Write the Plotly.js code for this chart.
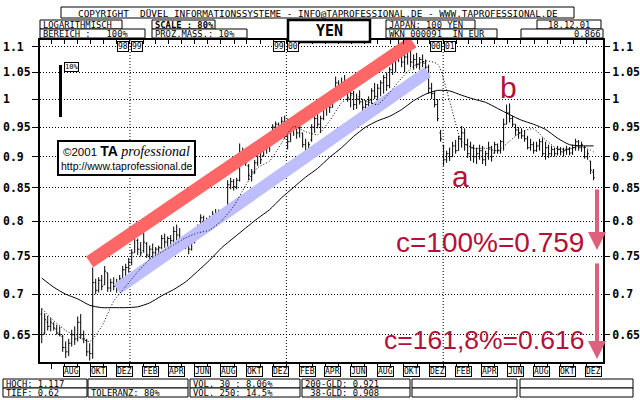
<!DOCTYPE html>
<html><head><meta charset="utf-8">
<script src="https://cdn.plot.ly/plotly-3.0.1.min.js"></script>
<style>html,body{margin:0;padding:0;background:#fff;}#chart{width:640px;height:400px;}</style>
</head><body><div id="chart"></div>
<script>
// ---------- DATA ----------
const firstWeek = '1998-06-09';
const weekOpen = [.675,.652,.665,.660,.663,.657,.652,.648,.635,.630,.640,.650,.645,.665,.650,.643,.630,.628,
.715,.705,.718,.712,.728,.708,.715,.710,.715,.720,.732,.735,.742,.755,.772,.760,.758,.768,.752,
.760,.755,.760,.762,.775,.770,.775,.772,.785,.780,.775,.768,.765,.760,.770,.785,.790,.805,.795,.800,.805,.810,.812,.808,.815,
.815,.855,.860,.852,.862,.905,.895,.885,.868,.875,.890,.905,.902,.912,.915,
.930,.950,.955,.945,.960,.940,.925,.950,.955,.940,.940,.920,.905,.928,.950,.965,.955,.965,.985,.995,.985,1.010,1.030,1.010,1.030,1.020,1.000,1.010,.990,1.000,.995,.985,.990,.998,1.015,1.005,1.020,
1.030,1.040,1.025,1.055,1.075,1.085,1.100,1.070,1.080,1.095,1.070,1.075,1.065,1.075,1.068,1.060,1.020,1.010,.990,.940,.918,.895,.905,.900,.918,.910,.930,.940,.920,.905,.915,.900,.905,.910,.895,.905,
.915,.906,.920,.910,.925,.955,.975,.965,.955,.945,.940,.935,.930,.915,.920,.910,.918,.925,.905,.915,.905,.912,.905,.912,.908,.910,.912,.906,.915,.925,.915,.915,.900,.893,.875];
const weekHigh = [.682,.676,.673,.670,.665,.662,.660,.650,.642,.645,.656,.660,.672,.675,.655,.645,.640,.735,
.720,.722,.725,.737,.728,.720,.722,.720,.725,.737,.740,.748,.760,.792,.775,.770,.783,.770,.765,
.768,.763,.765,.780,.782,.778,.780,.792,.795,.790,.778,.775,.772,.775,.790,.795,.810,.808,.805,.808,.815,.818,.817,.818,.820,
.862,.866,.864,.866,.922,.915,.905,.888,.880,.895,.912,.910,.918,.920,.925,
.955,.960,.958,.968,.970,.965,.955,.965,.962,.955,.940,.930,.925,.955,.975,.985,.970,.990,1.005,1.003,1.015,1.042,1.035,1.040,1.045,1.025,1.018,1.015,1.010,1.016,1.000,.998,1.005,1.020,1.030,1.028,1.035,
1.045,1.050,1.060,1.085,1.098,1.117,1.105,1.095,1.110,1.100,1.085,1.088,1.080,1.085,1.075,1.065,1.030,1.015,1.000,.945,.920,.910,.915,.925,.928,.935,.952,.948,.930,.925,.920,.915,.920,.918,.910,.925,
.918,.925,.922,.928,.965,.990,.992,.970,.955,.950,.948,.945,.935,.930,.925,.925,.930,.932,.925,.920,.918,.915,.918,.916,.915,.918,.916,.920,.930,.928,.925,.918,.912,.893,.880];
const weekLow = [.640,.650,.655,.654,.655,.650,.648,.630,.623,.625,.636,.638,.642,.645,.640,.625,.620,.622,
.700,.702,.705,.712,.703,.703,.705,.702,.708,.718,.722,.728,.738,.755,.752,.750,.755,.748,.745,
.748,.748,.750,.760,.762,.762,.765,.768,.772,.768,.763,.760,.753,.758,.768,.778,.785,.790,.790,.795,.800,.802,.801,.803,.805,
.815,.848,.846,.848,.860,.890,.885,.862,.860,.872,.885,.888,.900,.905,.908,
.925,.940,.938,.935,.930,.912,.925,.935,.930,.932,.915,.890,.900,.925,.940,.948,.940,.962,.970,.975,.985,1.005,1.000,1.005,1.010,.995,.985,.980,.982,.990,.978,.980,.982,.990,1.000,.995,1.005,
1.010,1.015,1.020,1.045,1.050,1.070,1.060,1.050,1.065,1.060,1.055,1.058,1.055,1.060,1.052,1.010,1.000,.985,.960,.925,.885,.890,.893,.900,.905,.910,.915,.910,.898,.893,.890,.888,.895,.888,.885,.895,
.892,.905,.905,.905,.910,.955,.958,.950,.935,.930,.930,.925,.912,.910,.905,.908,.910,.900,.895,.898,.900,.900,.902,.902,.900,.903,.902,.903,.910,.910,.908,.897,.895,.872,.862];
const weekClose = [.650,.668,.660,.665,.658,.652,.650,.635,.630,.640,.650,.645,.665,.650,.645,.630,.628,.715,
.705,.718,.710,.730,.708,.715,.710,.715,.720,.732,.735,.742,.755,.780,.760,.755,.770,.752,.760,
.755,.760,.762,.775,.770,.775,.772,.785,.780,.775,.768,.765,.760,.770,.785,.790,.805,.795,.800,.805,.810,.812,.808,.815,.812,
.855,.860,.852,.862,.905,.895,.890,.870,.875,.890,.905,.895,.912,.915,.920,
.950,.955,.945,.960,.940,.925,.950,.955,.940,.950,.920,.905,.920,.950,.965,.955,.965,.985,.995,.985,1.010,1.030,1.010,1.030,1.020,1.000,1.010,.990,1.000,.995,.985,.990,.998,1.015,1.005,1.020,1.030,
1.040,1.025,1.055,1.075,1.085,1.100,1.070,1.080,1.095,1.070,1.075,1.065,1.075,1.068,1.060,1.020,1.010,.990,.965,.930,.895,.905,.900,.918,.910,.930,.940,.920,.905,.915,.900,.905,.910,.895,.905,.915,
.900,.920,.910,.925,.955,.975,.965,.955,.945,.940,.935,.930,.915,.920,.910,.918,.925,.905,.915,.905,.912,.905,.912,.908,.910,.912,.906,.915,.925,.915,.920,.900,.905,.878,.866];
// moving averages, one value every 4th week
const ma200 = [.721,.709,.700,.694,.686,.683,.683,.683,.684,.689,.698,.706,.716,.730,.745,.762,.776,.790,.804,.817,.835,.851,.867,.881,.899,.915,.934,.950,.961,.969,.981,.997,1.009,1.016,1.015,1.007,1.000,.994,.983,.972,.962,.955,.946,.931,.920,.918,.918];
const ma38 = [.682,.667,.655,.648,.642,.660,.691,.710,.729,.746,.756,.766,.776,.783,.787,.801,.822,.854,.882,.893,.923,.951,.942,.937,.961,.993,1.008,.997,.990,1.012,1.039,1.062,1.072,1.066,.997,.926,.914,.914,.910,.926,.942,.947,.928,.913,.913,.918,.908];
// trend channels
const redX = ['1998-09-29','2000-10-22'];
const redY = [0.7425, 1.110];
const blueX = ['1998-12-02','2000-11-26'];
const blueY = [0.7068, 1.0508];
// targets
const targetLabels = ['c=100%=0.759','c=161,8%=0.616'];
const targetValues = [0.759, 0.616];
// axes
const yTicks = [0.65,0.7,0.75,0.8,0.85,0.9,0.95,1,1.05,1.1];
const yTickText = ['0.65','0.7','0.75','0.8','0.85','0.9','0.95','1','1.05','1.1'];
const monthLabels = ['AUG','OKT','DEZ','FEB','APR','JUN','AUG','OKT','DEZ','FEB','APR','JUN','AUG','OKT','DEZ','FEB','APR','JUN','AUG','OKT','DEZ'];
const monthLabelDates = ['1998-08-01','1998-10-01','1998-12-01','1999-02-01','1999-04-01','1999-06-01','1999-08-01','1999-10-01','1999-12-01','2000-02-01','2000-04-01','2000-06-01','2000-08-01','2000-10-01','2000-12-01','2001-02-01','2001-04-01','2001-06-01','2001-08-01','2001-10-01','2001-12-01'];
const yearBreaks = ['1999-01-01','2000-01-01','2001-01-01'];
const yearLeft = ['98','99','00'];
const yearRight = ['99','00','01'];
const headerTexts = ['COPYRIGHT  DÜVEL INFORMATIONSSYSTEME - INFO@TAPROFESSIONAL.DE - WWW.TAPROFESSIONAL.DE','LOGARITHMISCH','BEREICH :   100%','SCALE : 80%','PROZ.MASS.: 10%','JAPAN: 100 YEN','WKN 000091  IN EUR','18.12.01','0.866'];
const titleText = 'YEN';
const tableRow1 = ['HOCH: 1.117','','VOL. 30 : 8.06%','200-GLD: 0.921','',''];
const tableRow2 = ['TIEF: 0.62','TOLERANZ: 80%','VOL. 250: 14.5%',' 38-GLD: 0.908','',''];

// ---------- HELPERS ----------
function addDays(s,n){const d=new Date(s+'T00:00:00Z');d.setUTCDate(d.getUTCDate()+n);return d.toISOString().slice(0,10);}
const weekDates = weekHigh.map((_,i)=>addDays(firstWeek,7*i));
const maDates = ma200.map((_,k)=>weekDates[4*k]);
const monthTicks=[];
for(let y=1998;y<=2001;y++){for(let m=1;m<=12;m++){if(y===1998&&m<7)continue;monthTicks.push(y+'-'+String(m).padStart(2,'0')+'-01');}}
const L=40,R=603,T=40,B=362;
const PX=x=>(x-L)/(R-L), PY=y=>(B-y)/(B-T);
const nb=s=>s.replace(/ /g,'\u00a0');
const MONO='DejaVu Sans Mono';
const xRange=['1998-06-05','2002-01-09'];
const yRange=[Math.log10(0.6184),Math.log10(1.114)];

// ---------- TRACES ----------
const traces=[
 {type:'scatter',mode:'lines',x:redX,y:redY,line:{color:'rgb(255,102,102)',width:13},hoverinfo:'skip'},
 {type:'scatter',mode:'lines',x:blueX,y:blueY,line:{color:'rgb(190,190,255)',width:12},hoverinfo:'skip'},
 {type:'scatter',mode:'lines',x:maDates,y:ma200,line:{color:'#000',width:1,shape:'spline',smoothing:0.6},hoverinfo:'skip'},
 {type:'scatter',mode:'lines',x:maDates,y:ma38,line:{color:'#000',width:1,dash:'1px,2px',shape:'spline',smoothing:0.6},hoverinfo:'skip'},
 {type:'ohlc',x:weekDates,open:weekOpen,high:weekHigh,low:weekLow,close:weekClose,tickwidth:0.4,
  increasing:{line:{color:'#000',width:1}},decreasing:{line:{color:'#000',width:1}},hoverinfo:'skip'},
 {type:'scatter',x:[],y:[],xaxis:'x2',yaxis:'y',hoverinfo:'skip'},
 {type:'scatter',x:[],y:[],xaxis:'x',yaxis:'y2',hoverinfo:'skip'}
];

// ---------- SHAPES & ANNOTATIONS ----------
const shapes=[], ann=[];
function box(x0,y0,x1,y1,w,fill){shapes.push({type:'rect',xref:'paper',yref:'paper',x0:PX(x0),x1:PX(x1),y0:PY(y1),y1:PY(y0),line:{color:'#000',width:w||1},fillcolor:fill||'rgba(0,0,0,0)',layer:'above'});}
function txt(x,y,t,anchor,size,bold,extra){ann.push(Object.assign({xref:'paper',yref:'paper',x:PX(x),y:PY(y),xanchor:anchor,yanchor:'middle',text:nb(t),showarrow:false,borderpad:0,font:{family:MONO,size:size,color:'#000',weight:bold?'bold':'normal'}},extra||{}));}

// header
const hdr=[[61,7,574,18,'center'],[40,20,122,29,'left'],[40,29,145,38,'left'],[152,20,215,29,'left'],[152,29,247,38,'left'],[386,20,475,29,'left'],[386,29,497,38,'left'],[537,20,601,29,'center'],[521,29,603,38,'right']];
hdr.forEach((h,i)=>{box(h[0],h[1],h[2],h[3],1,'#fff');
 const x=h[4]==='left'?h[0]+2:(h[4]==='right'?h[2]-2:(h[0]+h[2])/2);
 txt(x,(h[1]+h[3])/2+0.5,headerTexts[i],h[4],i===0?9.4:8.8,i===3);});
box(288,20,370,42,2.5,'#fff');
txt(329,31,titleText,'center',15,true);

// bottom table
const cols=[[3,87],[88,188],[190,300],[302,410],[412,517],[520,633]];
cols.forEach((c,i)=>{box(c[0],379,c[1],388,1,'#fff');box(c[0],388,c[1],397,1,'#fff');
 if(tableRow1[i])txt(c[0]+2,384,tableRow1[i],'left',8.8,false);
 if(tableRow2[i])txt(c[0]+2,393,tableRow2[i],'left',8.8,false);});

// year boundaries
yearBreaks.forEach((d,i)=>{
 shapes.push({type:'line',xref:'x',yref:'paper',x0:d,x1:d,y0:0,y1:1,line:{color:'#000',width:1,dash:'1px,2px'},layer:'below'});
 ann.push({xref:'x',yref:'paper',x:d,y:PY(47),xanchor:'right',yanchor:'middle',xshift:-1,text:yearLeft[i],showarrow:false,bordercolor:'#000',borderwidth:1,borderpad:0,bgcolor:'#fff',font:{family:MONO,size:8,color:'#000'}});
 ann.push({xref:'x',yref:'paper',x:d,y:PY(47),xanchor:'left',yanchor:'middle',xshift:1,text:yearRight[i],showarrow:false,bordercolor:'#000',borderwidth:1,borderpad:0,bgcolor:'#fff',font:{family:MONO,size:8,color:'#000'}});
});
// month labels
monthLabels.forEach((m,i)=>ann.push({xref:'x',yref:'paper',x:monthLabelDates[i],y:PY(371),xanchor:'left',yanchor:'middle',xshift:-1,text:m,showarrow:false,bordercolor:'#000',borderwidth:1,borderpad:0,bgcolor:'#fff',font:{family:MONO,size:8,color:'#000'}}));
// left y labels
yTicks.forEach((v,i)=>ann.push({xref:'paper',yref:'y',x:PX(2),y:Math.log10(v),xanchor:'left',yanchor:'middle',text:yTickText[i],showarrow:false,borderpad:0,font:{family:MONO,size:11.5,weight:'bold',color:'#000'}}));

// 10% scale marker
shapes.push({type:'rect',xref:'paper',yref:'paper',x0:PX(59),x1:PX(62),y0:PY(117),y1:PY(65),fillcolor:'#000',line:{width:0}});
ann.push({xref:'paper',yref:'paper',x:PX(64),y:PY(67),xanchor:'left',yanchor:'middle',text:'10%',showarrow:false,bordercolor:'#000',borderwidth:1,borderpad:0,bgcolor:'#fff',font:{family:MONO,size:7,color:'#000'}});

// copyright box
box(58,141,195,175,2,'#fff');
ann.push({xref:'paper',yref:'paper',x:PX(126),y:PY(151),xanchor:'center',yanchor:'middle',showarrow:false,
 text:'<span style="font-family:Liberation Sans;font-size:11.5px">©2001 </span><span style="font-family:Liberation Sans;font-size:14px;font-weight:bold">TA </span><span style="font-family:Liberation Serif;font-size:14px;font-style:italic">professional</span>',font:{family:'Liberation Sans',size:12,color:'#000'}});
ann.push({xref:'paper',yref:'paper',x:PX(126),y:PY(166),xanchor:'center',yanchor:'middle',showarrow:false,text:'http://www.taprofessional.de',font:{family:'Liberation Sans',size:10.5,color:'#000'}});

// wave labels
const RED='rgb(180,16,56)';
ann.push({xref:'paper',yref:'paper',x:PX(460),y:PY(176),xanchor:'center',yanchor:'middle',text:'a',showarrow:false,font:{family:'Liberation Sans',size:30,color:RED}});
ann.push({xref:'paper',yref:'paper',x:PX(508),y:PY(87),xanchor:'center',yanchor:'middle',text:'b',showarrow:false,font:{family:'Liberation Sans',size:30,color:RED}});
ann.push({xref:'paper',yref:'paper',x:PX(586),y:PY(242),xanchor:'right',yanchor:'middle',text:targetLabels[0],showarrow:false,font:{family:'Liberation Sans',size:28,color:RED}});
ann.push({xref:'paper',yref:'paper',x:PX(586),y:PY(340),xanchor:'right',yanchor:'middle',text:targetLabels[1],showarrow:false,font:{family:'Liberation Sans',size:26.5,color:RED}});
// arrows
const ARW='rgb(222,96,124)';
ann.push({xref:'paper',yref:'y',x:PX(597),y:Math.log10(targetValues[0]),ax:0,ay:-62,text:'',showarrow:true,arrowhead:2,arrowsize:0.9,arrowwidth:4,arrowcolor:ARW});
ann.push({xref:'paper',yref:'paper',x:PX(597),y:PY(359),ax:0,ay:-97,text:'',showarrow:true,arrowhead:2,arrowsize:0.9,arrowwidth:4,arrowcolor:ARW});

const layout={
 width:640,height:400,margin:{l:L,r:640-R,t:T,b:400-B},paper_bgcolor:'#fff',plot_bgcolor:'#fff',showlegend:false,hovermode:false,
 xaxis:{type:'date',range:xRange,showgrid:false,zeroline:false,showline:true,linecolor:'#000',linewidth:2,mirror:true,ticks:'outside',ticklen:5,tickcolor:'#000',tickwidth:1,tickvals:monthTicks,showticklabels:false,rangeslider:{visible:false},fixedrange:true},
 xaxis2:{type:'date',range:xRange,overlaying:'x',side:'top',ticks:'inside',ticklen:4,tickcolor:'#000',tickvals:monthTicks,showticklabels:false,showgrid:false,showline:false,zeroline:false},
 yaxis:{type:'log',range:yRange,tickvals:yTicks,showticklabels:false,ticks:'outside',ticklen:6,tickcolor:'#000',showgrid:true,gridcolor:'#000',griddash:'1px,2px',gridwidth:1,showline:true,linewidth:2,linecolor:'#000',mirror:true,zeroline:false},
 yaxis2:{type:'log',range:yRange,overlaying:'y',side:'right',tickvals:yTicks,ticktext:yTickText,ticks:'outside',ticklen:6,tickcolor:'#000',tickfont:{family:MONO,size:11.5,color:'#000',weight:'bold'},showgrid:false,showline:false,zeroline:false},
 shapes:shapes,annotations:ann
};
Plotly.newPlot('chart',traces,layout,{displayModeBar:false,staticPlot:true});
</script></body></html>
